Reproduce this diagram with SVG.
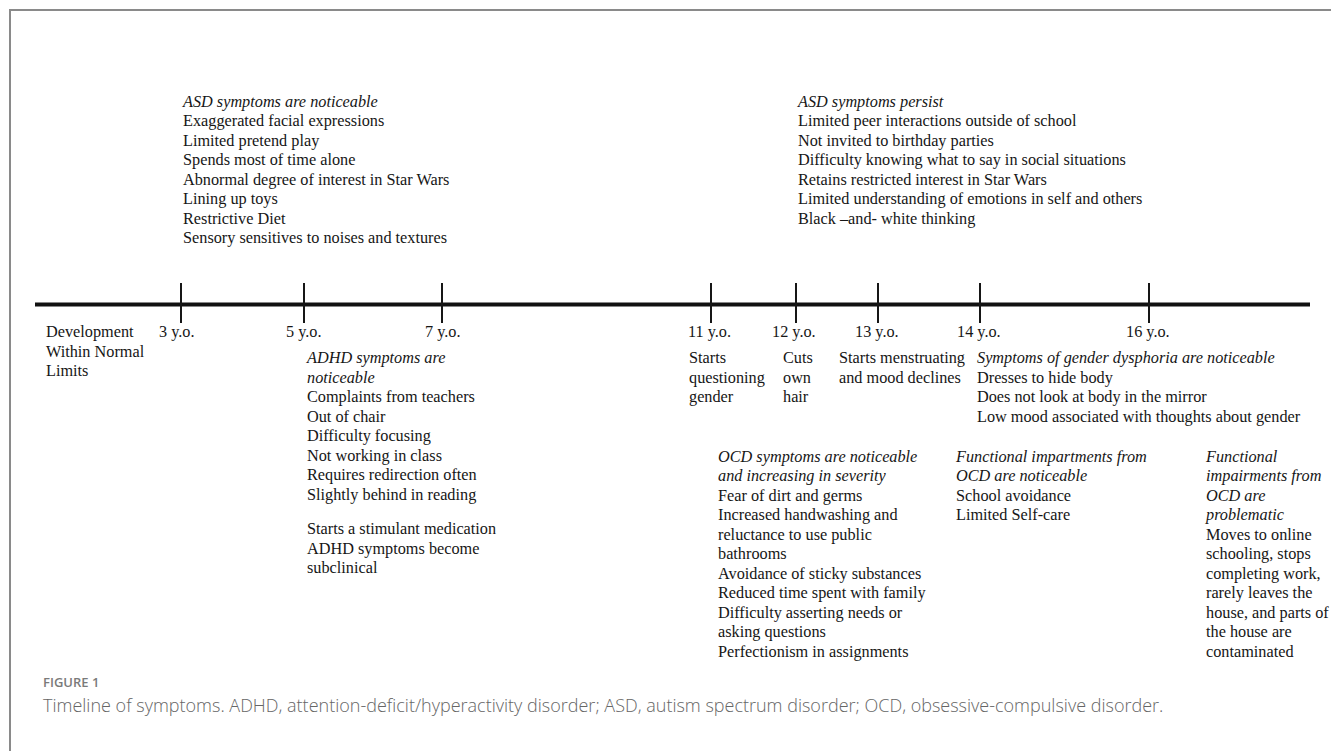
<svg xmlns="http://www.w3.org/2000/svg" width="1331" height="751" viewBox="0 0 1331 751">
<style>
.t{font-family:"Liberation Serif","Times New Roman",serif;font-size:16.25px;fill:#161616}
.i{font-style:italic}
.tick{stroke:#161616;stroke-width:2}
.axis{stroke:#111;stroke-width:4}
.fig{font-family:"Open Sans","Noto Sans",sans-serif;font-size:13px;font-weight:600;fill:#7a7a7a}
.cap{font-family:"Open Sans","Noto Sans",sans-serif;font-size:18px;font-weight:300;fill:#666}
</style>
<rect x="0" y="0" width="1331" height="751" fill="#fff"/>
<rect x="10" y="10" width="1340" height="760" fill="none" stroke="#8a8a8a" stroke-width="2"/>

<g id="connectors">
  <line class="axis" x1="35" y1="304.5" x2="1310" y2="304.5"/>
  <line class="tick" x1="181" y1="283" x2="181" y2="323"/>
  <line class="tick" x1="304" y1="283" x2="304" y2="323"/>
  <line class="tick" x1="442" y1="283" x2="442" y2="323"/>
  <line class="tick" x1="711" y1="283" x2="711" y2="323"/>
  <line class="tick" x1="796" y1="283" x2="796" y2="323"/>
  <line class="tick" x1="878" y1="283" x2="878" y2="323"/>
  <line class="tick" x1="980" y1="283" x2="980" y2="323"/>
  <line class="tick" x1="1149" y1="283" x2="1149" y2="323"/>
</g>

<g id="age-labels" class="t">
  <text x="159" y="337">3 y.o.</text>
  <text x="286" y="337">5 y.o.</text>
  <text x="425" y="337">7 y.o.</text>
  <text x="688" y="337">11 y.o.</text>
  <text x="772" y="337">12 y.o.</text>
  <text x="855" y="337">13 y.o.</text>
  <text x="957" y="337">14 y.o.</text>
  <text x="1126" y="337">16 y.o.</text>
</g>

<g id="development" class="t">
  <text x="46" y="337">Development</text>
  <text x="46" y="356.5">Within Normal</text>
  <text x="46" y="376">Limits</text>
</g>

<g id="asd-noticeable" class="t">
  <text x="183" y="106.5" class="i">ASD symptoms are noticeable</text>
  <text x="183" y="126">Exaggerated facial expressions</text>
  <text x="183" y="145.5">Limited pretend play</text>
  <text x="183" y="165">Spends most of time alone</text>
  <text x="183" y="184.5">Abnormal degree of interest in Star Wars</text>
  <text x="183" y="204">Lining up toys</text>
  <text x="183" y="223.5">Restrictive Diet</text>
  <text x="183" y="243">Sensory sensitives to noises and textures</text>
</g>

<g id="asd-persist" class="t">
  <text x="798" y="106.5" class="i">ASD symptoms persist</text>
  <text x="798" y="126">Limited peer interactions outside of school</text>
  <text x="798" y="145.5">Not invited to birthday parties</text>
  <text x="798" y="165">Difficulty knowing what to say in social situations</text>
  <text x="798" y="184.5">Retains restricted interest in Star Wars</text>
  <text x="798" y="204">Limited understanding of emotions in self and others</text>
  <text x="798" y="223.5">Black –and- white thinking</text>
</g>

<g id="adhd" class="t">
  <text x="307" y="363" class="i">ADHD symptoms are</text>
  <text x="307" y="382.5" class="i">noticeable</text>
  <text x="307" y="402">Complaints from teachers</text>
  <text x="307" y="421.5">Out of chair</text>
  <text x="307" y="441">Difficulty focusing</text>
  <text x="307" y="460.5">Not working in class</text>
  <text x="307" y="480">Requires redirection often</text>
  <text x="307" y="499.5">Slightly behind in reading</text>
  <text x="307" y="534">Starts a stimulant medication</text>
  <text x="307" y="553.5">ADHD symptoms become</text>
  <text x="307" y="573">subclinical</text>
</g>

<g id="questioning" class="t">
  <text x="689" y="363">Starts</text>
  <text x="689" y="382.5">questioning</text>
  <text x="689" y="402">gender</text>
</g>

<g id="hair" class="t">
  <text x="783" y="363">Cuts</text>
  <text x="783" y="382.5">own</text>
  <text x="783" y="402">hair</text>
</g>

<g id="menstruating" class="t">
  <text x="839" y="363">Starts menstruating</text>
  <text x="839" y="382.5">and mood declines</text>
</g>

<g id="gender-dysphoria" class="t">
  <text x="977" y="363" class="i">Symptoms of gender dysphoria are noticeable</text>
  <text x="977" y="382.5">Dresses to hide body</text>
  <text x="977" y="402">Does not look at body in the mirror</text>
  <text x="977" y="421.5">Low mood associated with thoughts about gender</text>
</g>

<g id="ocd" class="t">
  <text x="718" y="461.5" class="i">OCD symptoms are noticeable</text>
  <text x="718" y="481" class="i">and increasing in severity</text>
  <text x="718" y="500.5">Fear of dirt and germs</text>
  <text x="718" y="520">Increased handwashing and</text>
  <text x="718" y="539.5">reluctance to use public</text>
  <text x="718" y="559">bathrooms</text>
  <text x="718" y="578.5">Avoidance of sticky substances</text>
  <text x="718" y="598">Reduced time spent with family</text>
  <text x="718" y="617.5">Difficulty asserting needs or</text>
  <text x="718" y="637">asking questions</text>
  <text x="718" y="656.5">Perfectionism in assignments</text>
</g>

<g id="ocd-noticeable" class="t">
  <text x="956" y="461.5" class="i">Functional impartments from</text>
  <text x="956" y="481" class="i">OCD are noticeable</text>
  <text x="956" y="500.5">School avoidance</text>
  <text x="956" y="520">Limited Self-care</text>
</g>

<g id="ocd-problematic" class="t">
  <text x="1206" y="461.5" class="i">Functional</text>
  <text x="1206" y="481" class="i">impairments from</text>
  <text x="1206" y="500.5" class="i">OCD are</text>
  <text x="1206" y="520" class="i">problematic</text>
  <text x="1206" y="539.5">Moves to online</text>
  <text x="1206" y="559">schooling, stops</text>
  <text x="1206" y="578.5">completing work,</text>
  <text x="1206" y="598">rarely leaves the</text>
  <text x="1206" y="617.5">house, and parts of</text>
  <text x="1206" y="637">the house are</text>
  <text x="1206" y="656.5">contaminated</text>
</g>

<g id="caption">
  <text x="43" y="687" class="fig">FIGURE 1</text>
  <text x="43" y="712" class="cap">Timeline of symptoms. ADHD, attention-deficit/hyperactivity disorder; ASD, autism spectrum disorder; OCD, obsessive-compulsive disorder.</text>
</g>
</svg>
